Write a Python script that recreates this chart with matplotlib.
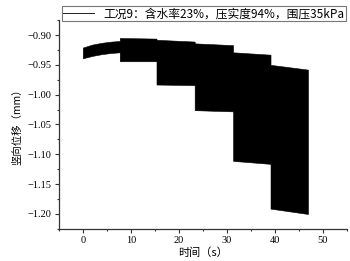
import matplotlib
matplotlib.use('Agg')
import matplotlib.pyplot as plt
from matplotlib.ticker import MultipleLocator
import numpy as np

# envelope of the cyclic displacement signal
t_knots = [0, 2, 4, 6, 7.7, 7.7, 15.35, 15.35, 23.3, 23.3, 31.3, 31.3, 39.1, 39.1, 46.9]
upper = [-0.921, -0.916, -0.913, -0.911, -0.910,
         -0.905, -0.906, -0.908, -0.911, -0.914, -0.917,
         -0.929, -0.933, -0.950, -0.958]
lower = [-0.939, -0.935, -0.932, -0.930, -0.929,
         -0.944, -0.944, -0.983, -0.984, -1.026, -1.028,
         -1.111, -1.116, -1.191, -1.200]

legend_label = '工况9：含水率23%，压实度94%，围压35kPa'
x_label = '时间（s）'
y_label = '竖向位移（mm）'
x_ticks = [0, 10, 20, 30, 40, 50]
y_ticks = [-0.90, -0.95, -1.00, -1.05, -1.10, -1.15, -1.20]
y_tick_labels = ['\u22120.90', '\u22120.95', '\u22121.00', '\u22121.05',
                 '\u22121.10', '\u22121.15', '\u22121.20']

cjk = ['Noto Sans CJK SC', 'DejaVu Sans']
serif = 'Liberation Serif'


def main():
    fig = plt.figure(figsize=(3.5, 2.61), dpi=100)
    ax = fig.add_axes([0.168, 0.123, 0.823, 0.800])

    ax.fill_between(t_knots, lower, upper, color='black', linewidth=0.4)
    line, = ax.plot([], [], color='#222222', linewidth=0.7, label=legend_label)

    ax.set_xlim(-5, 55)
    ax.set_ylim(-1.225, -0.875)
    ax.set_xticks(x_ticks)
    ax.set_yticks(y_ticks)
    ax.set_xticklabels([str(v) for v in x_ticks], fontfamily=serif, fontsize=7.5)
    ax.set_yticklabels(y_tick_labels, fontfamily=serif, fontsize=7.5)
    ax.xaxis.set_minor_locator(MultipleLocator(5))
    ax.yaxis.set_minor_locator(MultipleLocator(0.025))
    ax.tick_params(which='major', length=3, width=0.8, pad=2, color='#333333')
    ax.tick_params(which='minor', length=1.5, width=0.8, color='#333333')

    for pos in ['right', 'top']:
        ax.spines[pos].set_visible(False)
    for pos in ['left', 'bottom']:
        ax.spines[pos].set_color('#333333')
        ax.spines[pos].set_linewidth(0.9)

    ax.set_xlabel(x_label, fontfamily=cjk, fontsize=8, labelpad=2)
    ax.set_ylabel(y_label, fontfamily=cjk, fontsize=7.5, labelpad=4)

    leg = fig.legend(handles=[line], loc='upper left', bbox_to_anchor=(0.177, 0.977),
                     prop={'family': cjk, 'size': 8.5}, frameon=True, fancybox=False,
                     edgecolor='#555555', borderpad=0.1, handlelength=2.6,
                     handletextpad=0.8, borderaxespad=0.0)
    leg.get_frame().set_linewidth(0.8)

    fig.savefig('out.png', dpi=100)


if __name__ == '__main__':
    main()
